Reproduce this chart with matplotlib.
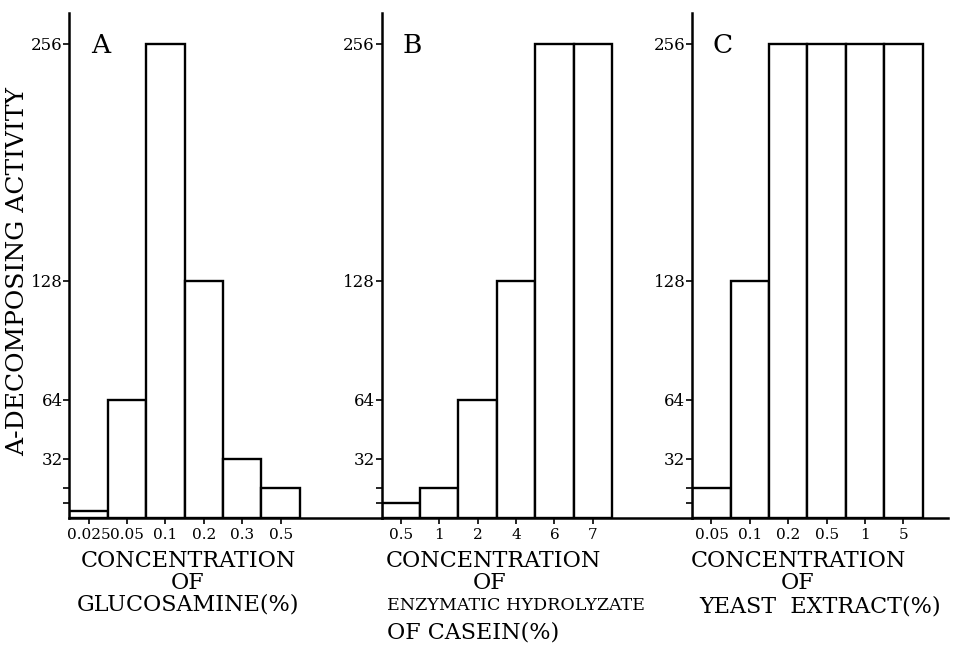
import matplotlib
matplotlib.use("Agg")
import matplotlib.pyplot as plt
import numpy as np

# activity values (linear scale, 0 at the x axis)
glucosamine_conc = ["0.025", "0.05", "0.1", "0.2", "0.3", "0.5"]
glucosamine_act = [4, 64, 256, 128, 32, 16]

casein_conc = ["0.5", "1", "2", "4", "6", "7"]
casein_act = [8, 16, 64, 128, 256, 256]

yeast_conc = ["0.05", "0.1", "0.2", "0.5", "1", "5"]
yeast_act = [16, 128, 256, 256, 256, 256]

y_ticks = [8, 16, 32, 64, 128, 256]
y_tick_labels = ["", "", "32", "64", "128", "256"]

plt.rcParams['font.family'] = ['DejaVu Serif']

W, H = 954, 645
fig = plt.figure(figsize=(W / 100, H / 100), dpi=100)

bar_px = 38.4          # width of one bar in pixels
base_px, top_px = 518, 13
px_per_unit = (base_px - 44) / 256.0


def fy(y):
    return 1 - y / H


def make_panel(x0, x1, conc, act, letter):
    ax = fig.add_axes([x0 / W, fy(base_px), (x1 - x0) / W, (base_px - top_px) / H])
    n = len(act)
    ax.bar(np.arange(n) + 0.5, act, width=1.0, color="white",
           edgecolor="black", linewidth=1.7)
    ax.set_xlim(0, (x1 - x0) / bar_px)
    ax.set_ylim(0, (base_px - top_px) / px_per_unit)
    for s in ["top", "right"]:
        ax.spines[s].set_visible(False)
    ax.spines["left"].set_linewidth(1.8)
    ax.spines["bottom"].set_linewidth(1.8)
    ax.set_yticks(y_ticks)
    ax.set_yticklabels(y_tick_labels, fontsize=12)
    ax.set_xticks(np.arange(n) + 0.5)
    ax.set_xticklabels(conc, fontsize=11)
    ax.tick_params(axis="y", direction="out", length=4, width=1.2, pad=1)
    ax.tick_params(axis="x", direction="out", length=4, width=1.2, pad=3)
    ax.text(0.8, 255, letter, fontsize=19, ha="center", va="center")
    return ax


make_panel(69.5, 381.7, glucosamine_conc, glucosamine_act, "A")
make_panel(381.7, 692.3, casein_conc, casein_act, "B")
make_panel(692.3, 948, yeast_conc, yeast_act, "C")

# axis titles
fig.text(18 / W, fy(272), "A-DECOMPOSING ACTIVITY", rotation=90,
         fontsize=18, ha="center", va="center")

lab = dict(fontsize=16, va="center")
fig.text(188 / W, fy(561), "CONCENTRATION", ha="center", **lab)
fig.text(188 / W, fy(583), "OF", ha="center", **lab)
fig.text(188 / W, fy(605), "GLUCOSAMINE(%)", ha="center", **lab)

fig.text(493 / W, fy(561), "CONCENTRATION", ha="center", **lab)
fig.text(490 / W, fy(583), "OF", ha="center", **lab)
fig.text(387 / W, fy(606), "ENZYMATIC HYDROLYZATE", ha="left", fontsize=12.6,
         va="center")
fig.text(387 / W, fy(632), "OF CASEIN(%)", ha="left", **lab)

fig.text(798 / W, fy(561), "CONCENTRATION", ha="center", **lab)
fig.text(798 / W, fy(583), "OF", ha="center", **lab)
fig.text(820 / W, fy(607), "YEAST  EXTRACT(%)", ha="center", **lab)

fig.savefig("out.png", dpi=100)
